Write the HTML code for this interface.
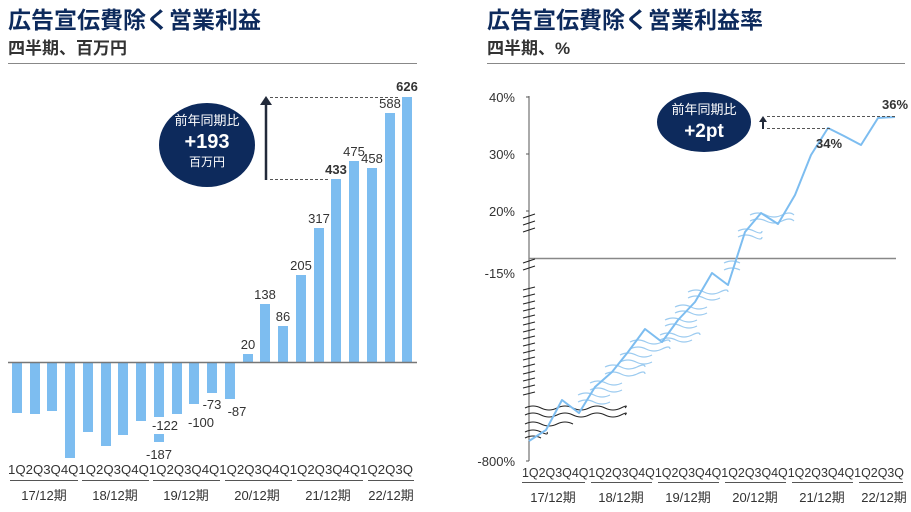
<!DOCTYPE html>
<html><head><meta charset="utf-8"><style>
body{margin:0;background:#fff;width:911px;height:507px;overflow:hidden;font-family:"Liberation Sans","Noto Sans CJK JP",sans-serif}
</style></head><body>
<svg width="911" height="507" viewBox="0 0 911 507" xmlns="http://www.w3.org/2000/svg" font-family="Liberation Sans, Noto Sans CJK JP, sans-serif">
<g font-weight="bold">
<text x="8" y="28" font-size="23" fill="#0d2a5c">広告宣伝費除く営業利益</text>
<text x="8" y="54" font-size="17" fill="#333">四半期、百万円</text>
<text x="487" y="28" font-size="23" fill="#0d2a5c">広告宣伝費除く営業利益率</text>
<text x="487" y="54" font-size="17" fill="#333">四半期、%</text>
</g>
<line x1="8" y1="63.5" x2="417" y2="63.5" stroke="#888"/>
<line x1="487" y1="63.5" x2="905" y2="63.5" stroke="#888"/>

<g fill="#7dbdf0">
<rect x="12" y="362" width="10" height="51"/>
<rect x="30" y="362" width="10" height="52"/>
<rect x="47" y="362" width="10" height="49"/>
<rect x="65" y="362" width="10" height="96"/>
<rect x="83" y="362" width="10" height="70"/>
<rect x="101" y="362" width="10" height="84"/>
<rect x="118" y="362" width="10" height="73"/>
<rect x="136" y="362" width="10" height="59"/>
<rect x="154" y="362" width="10" height="55"/>
<rect x="154" y="434" width="10" height="8"/>
<rect x="172" y="362" width="10" height="52"/>
<rect x="189" y="362" width="10" height="42"/>
<rect x="207" y="362" width="10" height="31"/>
<rect x="225" y="362" width="10" height="37"/>
<rect x="243" y="354" width="10" height="8"/>
<rect x="260" y="304" width="10" height="58"/>
<rect x="278" y="326" width="10" height="36"/>
<rect x="296" y="275" width="10" height="87"/>
<rect x="314" y="228" width="10" height="134"/>
<rect x="331" y="179" width="10" height="183"/>
<rect x="349" y="161" width="10" height="201"/>
<rect x="367" y="168" width="10" height="194"/>
<rect x="385" y="113" width="10" height="249"/>
<rect x="402" y="97" width="10" height="265"/>
</g>
<line x1="8" y1="362.5" x2="417" y2="362.5" stroke="#777" stroke-width="1.5"/>
<g font-size="13" fill="#333" text-anchor="middle">
<text x="165" y="430">-122</text>
<text x="159" y="459">-187</text>
<text x="201" y="427">-100</text>
<text x="212" y="409">-73</text>
<text x="237" y="416">-87</text>
<text x="248" y="349">20</text>
<text x="265" y="299">138</text>
<text x="283" y="321">86</text>
<text x="301" y="270">205</text>
<text x="319" y="223">317</text>
<text x="336" y="174" font-weight="bold">433</text>
<text x="354" y="156">475</text>
<text x="372" y="163">458</text>
<text x="390" y="108">588</text>
<text x="407" y="91" font-weight="bold">626</text>
</g>
<ellipse cx="207" cy="145" rx="48" ry="42" fill="#0d2a5c"/>
<g fill="#fff" text-anchor="middle">
<text x="207" y="125" font-size="13">前年同期比</text>
<text x="207" y="148" font-size="20" font-weight="bold">+193</text>
<text x="207" y="166" font-size="12">百万円</text>
</g>
<line x1="266" y1="180" x2="266" y2="103" stroke="#222a3a" stroke-width="2.5"/>
<polygon points="260,105 272,105 266,96" fill="#222a3a"/>
<line x1="270" y1="97.5" x2="400" y2="97.5" stroke="#555" stroke-dasharray="3,2"/>
<line x1="270" y1="179.5" x2="330" y2="179.5" stroke="#555" stroke-dasharray="3,2"/>
<g font-size="13" fill="#333">
<text x="8" y="474" textLength="405" lengthAdjust="spacingAndGlyphs">1Q2Q3Q4Q1Q2Q3Q4Q1Q2Q3Q4Q1Q2Q3Q4Q1Q2Q3Q4Q1Q2Q3Q</text>
</g>
<g stroke="#555"><line x1="10" y1="480.5" x2="78" y2="480.5"/><line x1="82" y1="480.5" x2="149" y2="480.5"/><line x1="153" y1="480.5" x2="220" y2="480.5"/><line x1="225" y1="480.5" x2="292" y2="480.5"/><line x1="297" y1="480.5" x2="363" y2="480.5"/><line x1="368" y1="480.5" x2="414" y2="480.5"/></g>
<g font-size="13" fill="#333" text-anchor="middle">
<text x="44" y="500">17/12期</text><text x="115" y="500">18/12期</text><text x="186" y="500">19/12期</text><text x="257" y="500">20/12期</text><text x="328" y="500">21/12期</text><text x="391" y="500">22/12期</text>
</g>

<line x1="529" y1="96" x2="529" y2="461" stroke="#555"/>
<g stroke="#555"><line x1="526" y1="97" x2="529" y2="97"/><line x1="526" y1="154" x2="529" y2="154"/><line x1="526" y1="211" x2="529" y2="211"/><line x1="526" y1="461" x2="529" y2="461"/></g>
<line x1="529" y1="258.5" x2="896" y2="258.5" stroke="#888" stroke-width="1.5"/>
<g font-size="13" fill="#333" text-anchor="end">
<text x="515" y="102">40%</text><text x="515" y="159">30%</text><text x="515" y="216">20%</text><text x="515" y="278">-15%</text><text x="515" y="466">-800%</text>
</g>
<g stroke="#222" fill="none" stroke-width="1">
<path d="M523,218 l12,-4 M523,225 l12,-4 M523,232 l12,-4 M523,263 l12,-4 M523,270 l12,-4"/>
<path d="M523,290 l12,-3 M523,297 l12,-3 M523,304 l12,-3 M523,311 l12,-3 M523,318 l12,-3 M523,325 l12,-3 M523,332 l12,-3 M523,339 l12,-3 M523,346 l12,-3 M523,353 l12,-3 M523,360 l12,-3 M523,367 l12,-3 M523,374 l12,-3 M523,381 l12,-3 M523,388 l12,-3 M523,395 l12,-3"/>
<path d="M525,408 q8,-4 16,0 t16,0 t16,0 t16,0 t16,0 t16,0 t4,0 M525,415 q8,-4 16,0 t16,0 t16,0 t16,0 t16,0 t16,0 t4,0 M525,424 q8,-4 16,0 t16,0 t16,0 M525,432 q8,-4 16,0 t6,0 M525,438 q8,-4 16,0"/>
</g>
<g stroke="#9ccbf0" fill="none" stroke-width="1.2">
<path d="M578,395 q8,-4 16,0 t16,0 M578,402 q8,-4 16,0 t16,0 M590,383 q8,-4 16,0 t16,0 M590,390 q8,-4 16,0 t16,0 M605,367 q8,-4 16,0 t16,0 t8,0 M605,374 q8,-4 16,0 t16,0 t8,0 M620,355 q8,-4 16,0 t16,0 M620,362 q8,-4 16,0 t16,0 M630,342 q8,-4 16,0 t16,0 t8,0 M630,349 q8,-4 16,0 t16,0 t8,0 M660,335 q8,-4 16,0 t16,0 t8,0 M660,340 q8,-4 16,0 t16,0 M665,320 q8,-4 16,0 t16,0 M665,326 q8,-4 16,0 t16,0 M675,307 q8,-4 16,0 t16,0 M675,313 q8,-4 16,0 t16,0 M688,292 q8,-4 16,0 t16,0 t8,0 M688,298 q8,-4 16,0 t16,0 M724,263 q8,-4 16,0 M724,270 q8,-4 16,0 M738,231 q8,-4 16,0 t8,0 M738,237 q8,-4 16,0 t8,0 M750,215 q8,-4 16,0 t16,0 t12,0 M750,221 q8,-4 16,0 t16,0 t12,0"/>
</g>
<polyline fill="none" stroke="#7dbdf0" stroke-width="2" stroke-linejoin="round" points="529,441 546,430 562,400 579,413 595,387 612,372 628,352 645,329 662,342 678,320 695,302 712,273 728,285 745,232 761,213 778,224 795,195 811,155 828,128 844,136 861,145 878,118 895,117"/>
<ellipse cx="704" cy="122" rx="47" ry="30" fill="#0d2a5c"/>
<g fill="#fff" text-anchor="middle">
<text x="704" y="114" font-size="13">前年同期比</text>
<text x="704" y="137" font-size="19" font-weight="bold">+2pt</text>
</g>
<line x1="763" y1="129" x2="763" y2="120" stroke="#222a3a" stroke-width="2"/>
<polygon points="759,122 767,122 763,116" fill="#222a3a"/>
<line x1="767" y1="116.5" x2="895" y2="116.5" stroke="#555" stroke-dasharray="3,2"/>
<line x1="767" y1="128.5" x2="830" y2="128.5" stroke="#555" stroke-dasharray="3,2"/>
<g font-size="13" fill="#333" font-weight="bold" text-anchor="middle">
<text x="829" y="148">34%</text><text x="895" y="109">36%</text>
</g>
<text x="522" y="477" font-size="13" fill="#333" textLength="382" lengthAdjust="spacingAndGlyphs">1Q2Q3Q4Q1Q2Q3Q4Q1Q2Q3Q4Q1Q2Q3Q4Q1Q2Q3Q4Q1Q2Q3Q</text>
<g stroke="#555"><line x1="522" y1="482.5" x2="585" y2="482.5"/><line x1="591" y1="482.5" x2="652" y2="482.5"/><line x1="658" y1="482.5" x2="719" y2="482.5"/><line x1="725" y1="482.5" x2="786" y2="482.5"/><line x1="792" y1="482.5" x2="853" y2="482.5"/><line x1="859" y1="482.5" x2="903" y2="482.5"/></g>
<g font-size="13" fill="#333" text-anchor="middle">
<text x="553" y="502">17/12期</text><text x="621" y="502">18/12期</text><text x="688" y="502">19/12期</text><text x="755" y="502">20/12期</text><text x="822" y="502">21/12期</text><text x="884" y="502">22/12期</text>
</g>
</svg>
</body></html>
